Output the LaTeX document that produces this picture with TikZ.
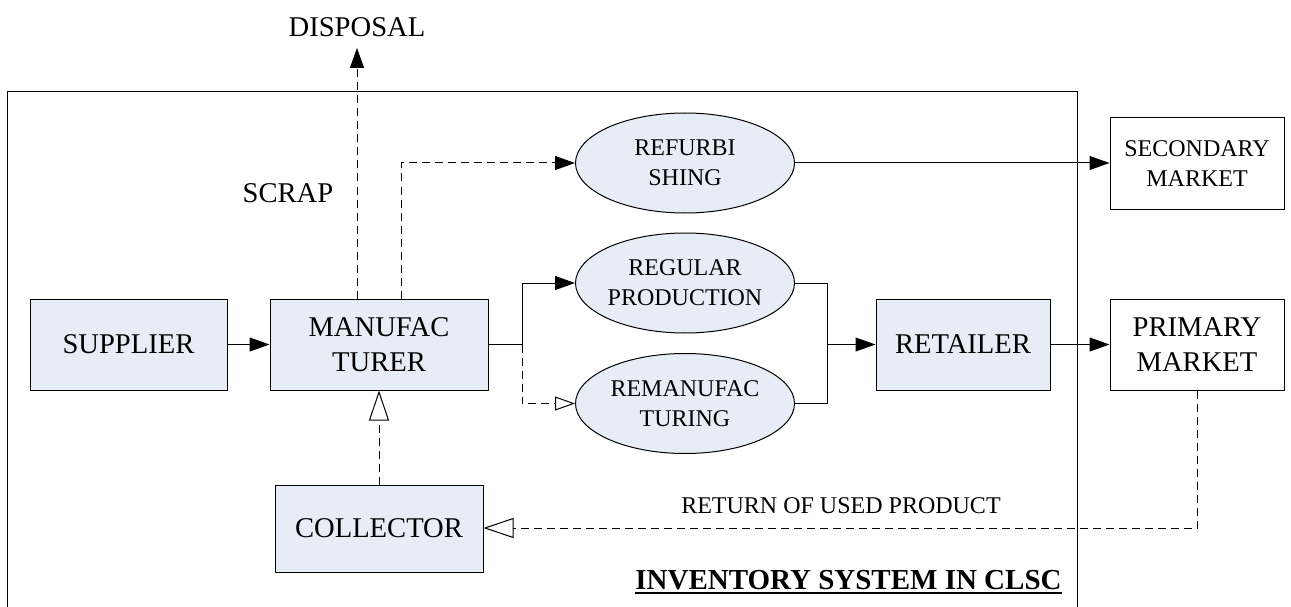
\documentclass[tikz,border=0pt]{standalone}
\usepackage{fontspec}
\setmainfont{Liberation Serif}
\usetikzlibrary{shapes.geometric,arrows.meta}
\definecolor{boxfill}{RGB}{231,237,247}
\tikzset{
  lbox/.style={draw, line width=1pt, fill=boxfill, rectangle, inner sep=0pt, align=center,
    font=\fontsize{28.6}{35}\selectfont},
  wbox/.style={draw, line width=1pt, fill=white, rectangle, inner sep=0pt, align=center,
    minimum width=174pt, minimum height=91pt},
  oval/.style={draw, line width=1pt, fill=boxfill, ellipse, inner sep=0pt, align=center,
    minimum width=219pt, minimum height=100pt, font=\fontsize{24}{30}\selectfont},
  conn/.style={line width=1pt},
  dconn/.style={line width=1pt, dash pattern=on 8pt off 5pt},
  fa/.style={-{Triangle[length=20pt,width=14pt]}},
  oa/.style={-{Triangle[open,length=20pt,width=14pt]}},
  ob/.style={-{Triangle[open,length=30pt,width=20pt]}},
  lbl/.style={inner sep=0pt}
}
\begin{document}
\begin{tikzpicture}[x=1pt,y=-1pt]
\clip (0,0) rectangle (1291,607);
\fill[white] (0,0) rectangle (1291,607);
% frame
\draw[line width=1pt] (7,640) -- (7,92) -- (1077,92) -- (1077,640);
% nodes
\node[lbox, minimum width=197pt, minimum height=91pt] (sup) at (128.5,344.5) {SUPPLIER};
\node[lbox, minimum width=218pt, minimum height=91pt] (mf) at (379,344.5) {MANUFAC\\TURER};
\node[lbox, minimum width=208pt, minimum height=87pt] (col) at (379,528.5) {COLLECTOR};
\node[lbox, minimum width=174pt, minimum height=91pt] (ret) at (963,344.5) {RETAILER};
\node[oval] (ref) at (685,163) {REFURBI\\SHING};
\node[oval] (reg) at (685,283) {REGULAR\\PRODUCTION};
\node[oval] (rem) at (685,403.5) {REMANUFAC\\TURING};
\node[wbox, font=\fontsize{24}{30}\selectfont] (sec) at (1197,163.5) {SECONDARY\\MARKET};
\node[wbox, font=\fontsize{28.6}{35}\selectfont] (pm) at (1197,344.5) {PRIMARY\\MARKET};
% labels
\node[lbl, font=\fontsize{28.6}{34}\selectfont] (disp) at (357,27) {DISPOSAL};
\node[lbl, font=\fontsize{28.6}{34}\selectfont] (scrap) at (288,193) {SCRAP};
\node[lbl, font=\fontsize{24}{30}\selectfont] (retlbl) at (841,506) {RETURN OF USED PRODUCT};
\node[lbl, font=\fontsize{29}{34}\selectfont\bfseries] (inv) at (848.5,580) {INVENTORY SYSTEM IN CLSC};
\draw[line width=2.6pt] ([yshift=-3pt]inv.south west) -- ([yshift=-3pt]inv.south east);
\coordinate (disptip) at (357,48);
\coordinate (refx) at (401,0);
\coordinate (split) at (522,344.5);
\coordinate (join) at (827,344.5);
\coordinate (retcorner) at (1197,528);
% connectors
\draw[conn,fa] (sup.east) -- (mf.west);
\draw[dconn,fa] (mf.north -| disptip) -- (disptip);
\draw[dconn,fa] (mf.north -| refx) |- (ref.west);
\draw[conn] (mf.east) -- (split);
\draw[conn,fa] (split) |- (reg.west);
\draw[dconn,oa] (split) |- (rem.west);
\draw[conn] (reg.east) -| (join);
\draw[conn] (rem.east) -| (join);
\draw[conn,fa] (join) -- (ret.west);
\draw[conn,fa] (ref.east) -- (sec.west |- ref.east);
\draw[conn,fa] (ret.east) -- (pm.west);
\draw[dconn,ob] (pm.south) -- (retcorner) -- (col.east |- retcorner);
\draw[dconn,ob] (col.north) -- (mf.south);
\end{tikzpicture}
\end{document}
